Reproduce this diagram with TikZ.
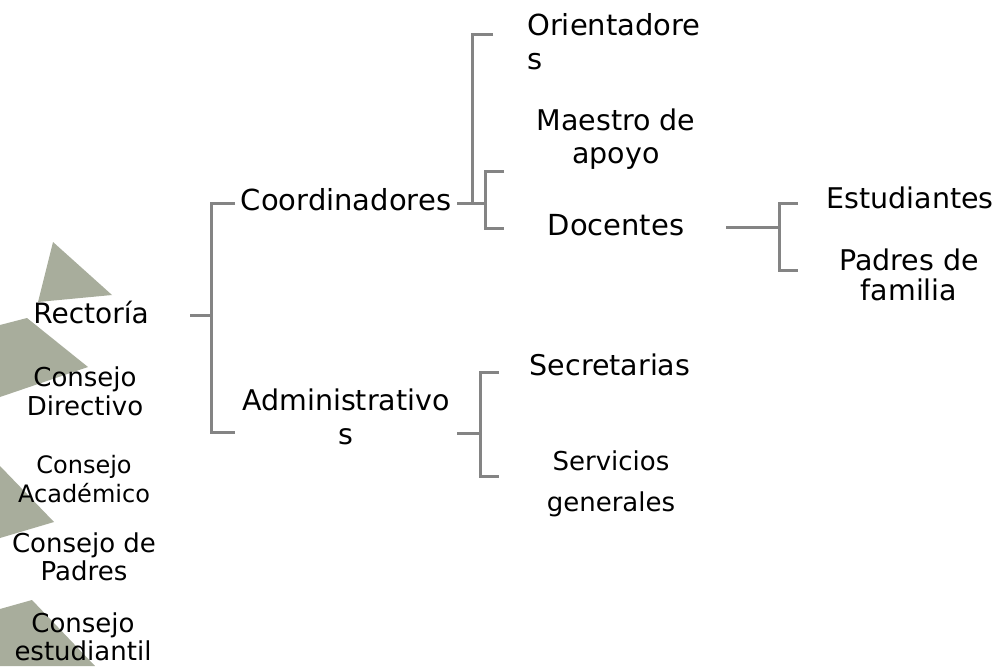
\documentclass[tikz,border=0pt]{standalone}
\usepackage{fontspec}
\setmainfont{DejaVu Sans}
\definecolor{conncol}{RGB}{132,132,132}
\definecolor{shapecol}{RGB}{168,173,156}
\newcommand\ctrlines[1]{\vtop{\halign{\hfil##\hfil\cr#1\crcr}}}
\newcommand\lftlines[1]{\vtop{\halign{##\hfil\cr#1\crcr}}}
\tikzset{
  conn/.style={draw=conncol, line width=3pt},
  lbl/.style={inner sep=0pt, anchor=base, text=black},
  bg/.style={fill=shapecol, draw=none}
}
\begin{document}
\begin{tikzpicture}[x=1pt,y=-1pt]
\useasboundingbox[fill=white] (0,0) rectangle (1003,666);
% background chevrons
\fill[bg] (53,242) -- (112,295) -- (38,302) -- cycle;
\fill[bg] (0,325) -- (27,318) -- (88,367) -- (0,397) -- cycle;
\fill[bg] (0,466) -- (54,522) -- (0,538) -- cycle;
\fill[bg] (0,609) -- (32,600) -- (95,666) -- (0,666) -- cycle;
% nodes
\node[lbl, anchor=base west] (orient) at (527,36) {\fontsize{29}{34}\selectfont\lftlines{Orientadore\cr s}};
\node[lbl] (maestro) at (616,130) {\fontsize{28.5}{33}\selectfont\ctrlines{Maestro de\cr apoyo}};
\node[lbl] (docentes) at (616,235) {\fontsize{29}{34}\selectfont Docentes};
\node[lbl] (coord) at (346,210) {\fontsize{29}{34}\selectfont Coordinadores};
\node[lbl] (admin) at (346,410) {\fontsize{28.5}{34}\selectfont\ctrlines{Administrativo\cr s}};
\node[lbl] (rect) at (91,323) {\fontsize{28}{34}\selectfont Rectoría};
\node[lbl] (cdir) at (85,386) {\fontsize{26}{29.5}\selectfont\ctrlines{Consejo\cr Directivo}};
\node[lbl] (cacad) at (84,473) {\fontsize{24}{29}\selectfont\ctrlines{Consejo\cr Académico}};
\node[lbl] (cpad) at (84,552) {\fontsize{26}{28.5}\selectfont\ctrlines{Consejo de\cr Padres}};
\node[lbl] (cest) at (83,632) {\fontsize{26}{28}\selectfont\ctrlines{Consejo\cr estudiantil}};
\node[lbl] (estud) at (910,208) {\fontsize{28.5}{34}\selectfont Estudiantes};
\node[lbl] (padres) at (909,270) {\fontsize{28.5}{30}\selectfont\ctrlines{Padres de\cr familia}};
\node[lbl] (secre) at (610,375) {\fontsize{28.5}{34}\selectfont Secretarias};
\node[lbl] (serv) at (611,470) {\fontsize{26}{41}\selectfont\ctrlines{Servicios\cr generales}};
% bracket coordinates
\coordinate (rA) at (190,315); \coordinate (jA) at (211,315);
\coordinate (tA1) at (235,203); \coordinate (tA2) at (235,432);
\coordinate (sB) at (457,203); \coordinate (jB) at (472,203); \coordinate (tB) at (493,35);
\coordinate (jC) at (485,203); \coordinate (tC1) at (504,171); \coordinate (tC2) at (504,228);
\coordinate (sD) at (726,227); \coordinate (jD) at (779,227);
\coordinate (tD1) at (798,203); \coordinate (tD2) at (798,270);
\coordinate (sE) at (457,433); \coordinate (jE) at (480,433);
\coordinate (tE1) at (499,372); \coordinate (tE2) at (499,476);
% connectors
\draw[conn] (rA) -- (jA);
\draw[conn] (tA1) -| (jA) |- (tA2);
\draw[conn] (sB) -- (jC);
\draw[conn] (tB) -| (jB);
\draw[conn] (tC1) -| (jC) |- (tC2);
\draw[conn] (sD) -- (jD);
\draw[conn] (tD1) -| (jD) |- (tD2);
\draw[conn] (sE) -- (jE);
\draw[conn] (tE1) -| (jE) |- (tE2);
\end{tikzpicture}
\end{document}
